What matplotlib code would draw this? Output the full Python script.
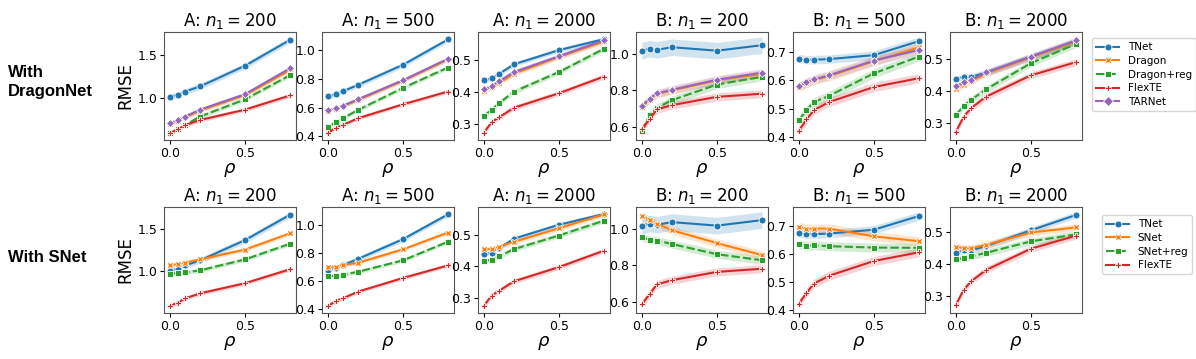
import matplotlib
matplotlib.use("Agg")
import matplotlib.pyplot as plt
from matplotlib.lines import Line2D
import numpy as np

rho = [0.0, 0.05, 0.1, 0.2, 0.5, 0.8]
titles = ["A: $n_1 = 200$", "A: $n_1 = 500$", "A: $n_1 = 2000$",
          "B: $n_1 = 200$", "B: $n_1 = 500$", "B: $n_1 = 2000$"]

# ---- values (one list per panel) ----
tnet = [
    [1.01, 1.03, 1.07, 1.13, 1.37, 1.67],
    [0.679, 0.693, 0.714, 0.758, 0.898, 1.074],
    [0.437, 0.443, 0.457, 0.487, 0.531, 0.565],
    [1.016, 1.027, 1.021, 1.035, 1.016, 1.046],
    [0.676, 0.672, 0.672, 0.674, 0.688, 0.737],
    [0.436, 0.445, 0.444, 0.457, 0.507, 0.555],
]
dragon = [
    [0.69, 0.73, 0.77, 0.85, 1.03, 1.32],
    [0.578, 0.592, 0.610, 0.654, 0.787, 0.935],
    [0.405, 0.415, 0.428, 0.458, 0.510, 0.558],
    [0.710, 0.750, 0.780, 0.800, 0.855, 0.890],
    [0.575, 0.590, 0.600, 0.614, 0.667, 0.715],
    [0.405, 0.420, 0.430, 0.455, 0.505, 0.555],
]
dragon_reg = [
    [0.59, 0.63, 0.68, 0.78, 0.98, 1.26],
    [0.465, 0.498, 0.526, 0.584, 0.737, 0.879],
    [0.3275, 0.345, 0.366, 0.402, 0.463, 0.535],
    [0.579, 0.664, 0.706, 0.747, 0.832, 0.874],
    [0.459, 0.495, 0.523, 0.545, 0.624, 0.683],
    [0.325, 0.352, 0.372, 0.405, 0.487, 0.547],
]
flexte = [
    [0.59, 0.63, 0.68, 0.74, 0.86, 1.025],
    [0.423, 0.460, 0.479, 0.526, 0.623, 0.712],
    [0.275, 0.307, 0.322, 0.352, 0.397, 0.449],
    [0.590, 0.644, 0.697, 0.720, 0.765, 0.782],
    [0.423, 0.462, 0.495, 0.523, 0.576, 0.607],
    [0.273, 0.319, 0.346, 0.382, 0.449, 0.490],
]
tarnet = [
    [0.70, 0.74, 0.78, 0.86, 1.04, 1.34],
    [0.581, 0.595, 0.614, 0.658, 0.791, 0.940],
    [0.410, 0.418, 0.434, 0.463, 0.512, 0.562],
    [0.715, 0.756, 0.784, 0.804, 0.858, 0.897],
    [0.578, 0.592, 0.603, 0.617, 0.669, 0.706],
    [0.414, 0.427, 0.435, 0.458, 0.507, 0.558],
]
snet = [
    [1.077, 1.085, 1.104, 1.142, 1.258, 1.45],
    [0.704, 0.704, 0.715, 0.731, 0.826, 0.945],
    [0.454, 0.454, 0.462, 0.477, 0.520, 0.564],
    [1.067, 1.046, 1.026, 0.991, 0.921, 0.856],
    [0.699, 0.692, 0.692, 0.692, 0.664, 0.647],
    [0.455, 0.451, 0.451, 0.461, 0.500, 0.516],
]
snet_reg = [
    [0.969, 0.981, 0.988, 1.012, 1.142, 1.327],
    [0.639, 0.636, 0.646, 0.667, 0.748, 0.880],
    [0.417, 0.420, 0.431, 0.454, 0.497, 0.544],
    [0.954, 0.940, 0.935, 0.916, 0.861, 0.828],
    [0.636, 0.630, 0.632, 0.629, 0.624, 0.623],
    [0.416, 0.419, 0.425, 0.436, 0.472, 0.494],
]
# confidence band half-widths per panel
ci_tnet = [0.035, 0.018, 0.007, 0.045, 0.015, 0.010]
ci_other = [0.025, 0.014, 0.008, 0.022, 0.016, 0.011]

C_BLUE, C_ORANGE, C_GREEN, C_RED, C_PURPLE = "#1f77b4", "#ff7f0e", "#2ca02c", "#d62728", "#9467bd"

row1 = [("TNet", tnet, C_BLUE, "o", "-", ci_tnet),
        ("Dragon", dragon, C_ORANGE, "X", "-", ci_other),
        ("Dragon+reg", dragon_reg, C_GREEN, "s", (0, (4, 1.5)), ci_other),
        ("FlexTE", flexte, C_RED, "P", "-", ci_other),
        ("TARNet", tarnet, C_PURPLE, "D", "-", ci_other)]
row2 = [("TNet", tnet, C_BLUE, "o", "-", ci_tnet),
        ("SNet", snet, C_ORANGE, "X", "-", ci_other),
        ("SNet+reg", snet_reg, C_GREEN, "s", (0, (4, 1.5)), ci_other),
        ("FlexTE", flexte, C_RED, "P", "-", ci_other)]

fig = plt.figure(figsize=(11.96, 3.59), dpi=100)
W, H = 1196, 359
lefts = [164, 322, 478, 636, 793, 950]
axw = 132
rows = [(row1, 32, 140), (row2, 207, 313)]

for r, (series, top, bot) in enumerate(rows):
    for i in range(6):
        ax = fig.add_axes([lefts[i] / W, 1 - bot / H, axw / W, (bot - top) / H])
        for name, vals, col, mk, ls, ci in series:
            v = np.array(vals[i])
            ax.fill_between(rho, v - ci[i], v + ci[i], color=col, alpha=0.2, lw=0)
            ms = 5 if mk not in ("D",) else 4.5
            ax.plot(rho, v, color=col, marker=mk, ms=ms, mec="white", mew=0.6,
                    lw=1.5, linestyle=ls, label=name)
        ax.set_title(titles[i], fontsize=12, pad=4)
        ax.set_xlabel(r"$\rho$", fontsize=13, labelpad=1)
        ax.set_xticks([0.0, 0.5])
        ax.tick_params(labelsize=9, pad=2, length=3)
        for s in ax.spines.values():
            s.set_color("#555555")
        if i == 0:
            ax.set_ylabel("RMSE", fontsize=12, labelpad=2)
    handles = [Line2D([0], [0], color=col, marker=mk, ms=5, mec="white", mew=0.6,
                      lw=1.5, linestyle=ls) for name, vals, col, mk, ls, ci in series]
    labels = [s[0] for s in series]
    if r == 0:
        fig.legend(handles, labels, loc="upper left", bbox_to_anchor=(1087 / W, 1 - 33 / H),
                   fontsize=7.5, frameon=True, borderpad=0.4, labelspacing=0.35,
                   handlelength=2.2, handletextpad=0.8)
    else:
        fig.legend(handles, labels, loc="upper left", bbox_to_anchor=(1097 / W, 1 - 210 / H),
                   fontsize=7.5, frameon=True, borderpad=0.4, labelspacing=0.35,
                   handlelength=2.2, handletextpad=0.8)

fig.text(8 / W, 1 - 82 / H, "With\nDragonNet", fontsize=12, fontweight="bold",
         family="Liberation Sans", va="center", ha="left", linespacing=1.4)
fig.text(8 / W, 1 - 257 / H, "With SNet", fontsize=12, fontweight="bold",
         family="Liberation Sans", va="center", ha="left")

fig.savefig("out.png", dpi=100)
